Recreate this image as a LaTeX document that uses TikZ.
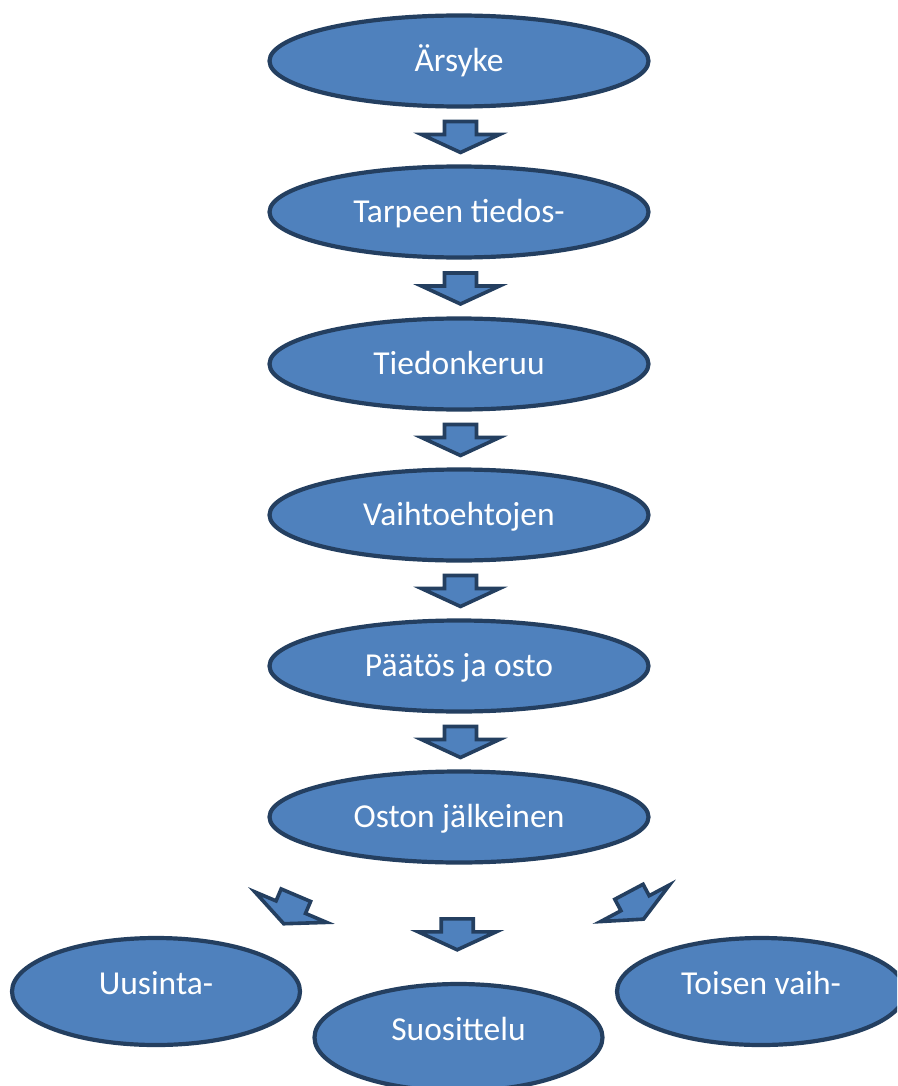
\documentclass[tikz,border=0pt]{standalone}
\usepackage{fontspec}
\setmainfont{Carlito}
\usetikzlibrary{shapes.geometric,calc}
\definecolor{stepfill}{HTML}{4F81BD}
\definecolor{stepline}{HTML}{243F60}
\begin{document}
\begin{tikzpicture}[x=1pt,y=-1pt,
  stage/.style={ellipse, draw=stepline, fill=stepfill, line width=4.2pt,
    inner sep=0pt, text=white, font=\fontsize{33.5}{40}\selectfont,
    minimum width=379pt, minimum height=91pt, text height=21.6pt, text depth=0pt},
  outcome/.style={stage, minimum width=288pt, minimum height=107pt, text depth=15pt},
  barrow/.pic={\draw[stepline, fill=stepfill, line width=3.6pt, line join=miter, miter limit=10]
    (-16,-15) -- (16,-15) -- (16,-2) -- (39,-2) -- (0,16) -- (-39,-2) -- (-16,-2) -- cycle;}
]
\useasboundingbox (0,0) rectangle (897,1086);
\clip (0,0) rectangle (897,1086);
\fill[white] (0,0) rectangle (897,1086);

\node[stage] (n1) at (459,61) {Ärsyke};
\node[stage] (n2) at (459,212) {Tarpeen tiedos-};
\node[stage] (n3) at (459,364) {Tiedonkeruu};
\node[stage] (n4) at (459,515) {Vaihtoehtojen};
\node[stage] (n5) at (459,666) {Päätös ja osto};
\node[stage] (n6) at (459,817) {Oston jälkeinen};

\node[outcome] (u) at (156,991.5) {Uusinta-};
\node[outcome] (s) at (458.5,1037.5) {Suosittelu};
\node[outcome] (t) at (761,991.5) {Toisen vaih-};

\pic at ($(n1.south)!0.5!(n2.north)+(1.5,0)$) {barrow};
\pic at ($(n2.south)!0.5!(n3.north)+(1.5,0)$) {barrow};
\pic at ($(n3.south)!0.5!(n4.north)+(1.5,0)$) {barrow};
\pic at ($(n4.south)!0.5!(n5.north)+(1.5,0)$) {barrow};
\pic at ($(n5.south)!0.5!(n6.north)+(1.5,0)$) {barrow};
\pic at ($(n6.south)!0.59!(s.north)+(-1.5,0)$) {barrow};
\pic[rotate=-23] at (290,909) {barrow};
\pic[rotate=28] at (636,905) {barrow};
\end{tikzpicture}
\end{document}
